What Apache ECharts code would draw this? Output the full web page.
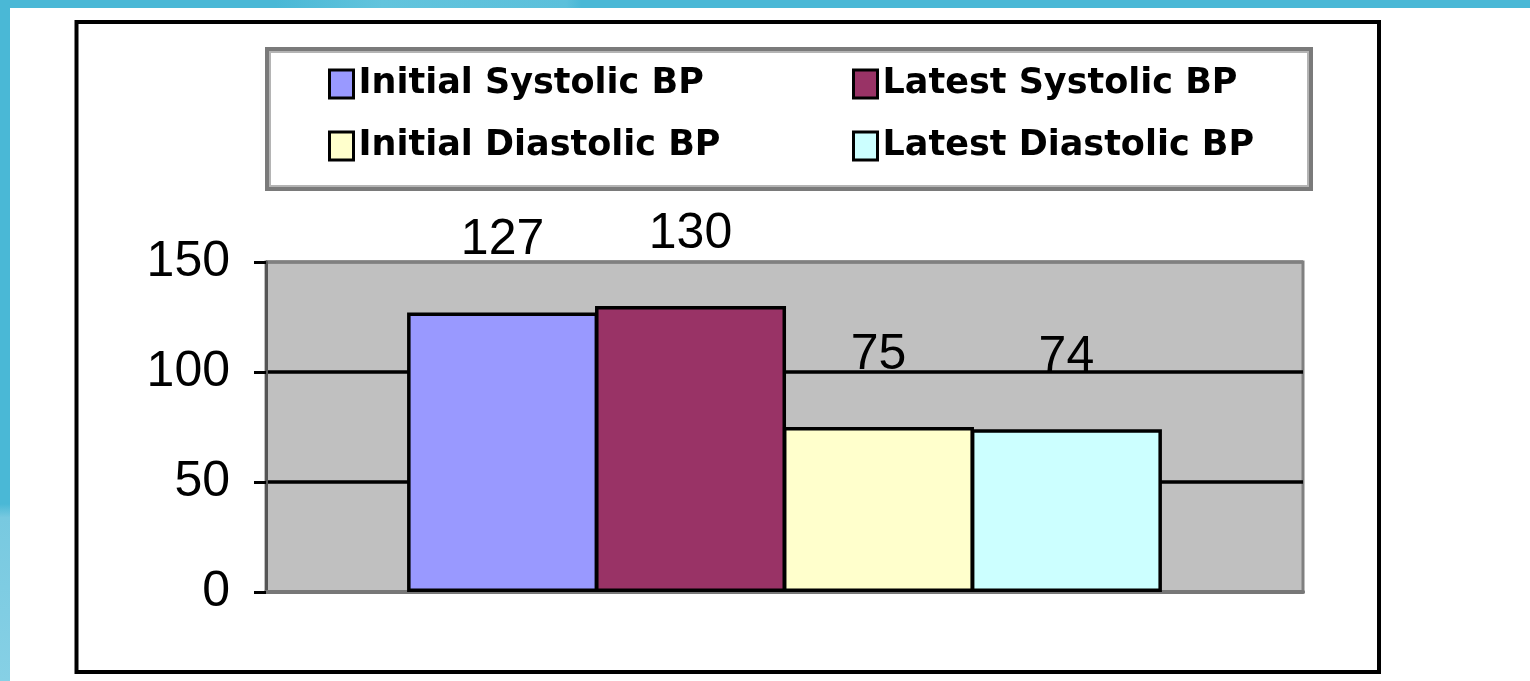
<!DOCTYPE html>
<html>
<head>
<meta charset="utf-8">
<script src="https://cdn.jsdelivr.net/npm/echarts@6/dist/echarts.min.js"></script>
<style>
  html, body { margin: 0; padding: 0; background: #fff; }
  #chart { width: 1530px; height: 681px; }
</style>
</head>
<body>
<div id="chart"></div>
<script>
// data
const seriesNames = ['Initial Systolic BP', 'Latest Systolic BP', 'Initial Diastolic BP', 'Latest Diastolic BP'];
const seriesValues = [127, 130, 75, 74];
const seriesColors = ['#9999ff', '#993366', '#ffffcc', '#ccffff'];
const categories = [''];
const yTicks = [0, 50, 100, 150];

const chart = echarts.init(document.getElementById('chart'));

const legendText = { fontFamily: 'DejaVu Sans', fontWeight: 'bold', fontSize: 35, color: '#000', lineHeight: 36 };
const makeLegend = (left, names) => ({
  orient: 'vertical',
  left: left,
  top: 66,
  padding: 0,
  itemGap: 26,
  itemWidth: 24,
  itemHeight: 28,
  icon: 'rect',
  selectedMode: false,
  itemStyle: { borderColor: '#000', borderWidth: 3 },
  textStyle: legendText,
  data: names
});

chart.setOption({
  backgroundColor: '#fff',
  animation: false,
  graphic: [
    // slide background strips
    { type: 'rect', shape: { x: 0, y: 0, width: 1530, height: 8 },
      style: { fill: { type: 'linear', x: 0, y: 0, x2: 1, y2: 0, colorStops: [
        { offset: 0, color: '#4ab8d6' }, { offset: 0.18, color: '#4ab8d6' },
        { offset: 0.25, color: '#62c4dd' }, { offset: 0.37, color: '#5cc0db' },
        { offset: 0.38, color: '#4ab8d6' }, { offset: 1, color: '#4ab8d6' }] } }, silent: true },
    { type: 'rect', shape: { x: 0, y: 0, width: 10, height: 681 },
      style: { fill: { type: 'linear', x: 0, y: 0, x2: 0, y2: 1, colorStops: [
        { offset: 0, color: '#4ab8d6' }, { offset: 0.74, color: '#4ab8d6' },
        { offset: 0.76, color: '#78c9e0' }, { offset: 1, color: '#86d0e5' }] } }, silent: true },
    // outer frame
    { type: 'rect', shape: { x: 76.5, y: 22, width: 1302.5, height: 650 },
      style: { fill: null, stroke: '#000', lineWidth: 4 }, silent: true },
    // legend box
    { type: 'rect', shape: { x: 267, y: 49, width: 1044, height: 140 },
      style: { fill: null, stroke: '#7a7a7a', lineWidth: 4 }, silent: true },
    { type: 'rect', shape: { x: 270, y: 52, width: 1038, height: 134 },
      style: { fill: null, stroke: '#b4b4b4', lineWidth: 2 }, silent: true }
  ],
  legend: [
    makeLegend(328, [seriesNames[0], seriesNames[2]]),
    makeLegend(852, [seriesNames[1], seriesNames[3]])
  ],
  grid: {
    left: 266, right: 227, top: 262, bottom: 89,
    show: true, backgroundColor: '#c0c0c0', borderColor: '#808080', borderWidth: 3
  },
  xAxis: {
    type: 'category',
    data: categories,
    axisLine: { show: true, lineStyle: { color: '#777', width: 4 } },
    axisTick: { show: false },
    axisLabel: { show: false }
  },
  yAxis: {
    type: 'value',
    min: yTicks[0],
    max: yTicks[yTicks.length - 1],
    interval: 50,
    axisLine: { show: true, lineStyle: { color: '#555', width: 3 } },
    axisTick: { show: true, length: 12, lineStyle: { color: '#000', width: 3 } },
    axisLabel: { margin: 36, fontFamily: 'Liberation Sans', fontSize: 50, color: '#000' },
    splitLine: { show: true, lineStyle: { color: ['#808080', '#000', '#000', '#808080'], width: 3.5 } }
  },
  series: seriesNames.map((name, i) => ({
    name: name,
    type: 'bar',
    data: [seriesValues[i]],
    barWidth: 191,
    barGap: '-1.6%',
    itemStyle: { color: seriesColors[i], borderColor: '#000', borderWidth: 3.5 },
    label: {
      show: true,
      position: 'top',
      distance: 47,
      fontFamily: 'Liberation Sans',
      fontSize: 50,
      color: '#000'
    }
  }))
});
</script>
</body>
</html>
